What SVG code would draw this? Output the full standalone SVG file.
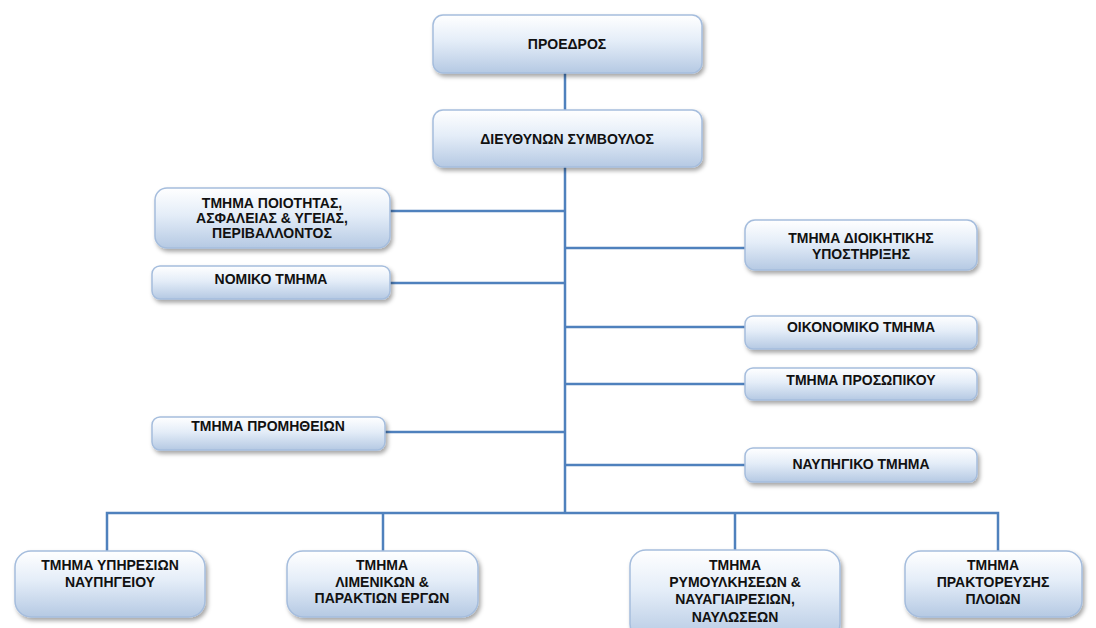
<svg xmlns="http://www.w3.org/2000/svg" width="1096" height="628" viewBox="0 0 1096 628">
<defs>
<linearGradient id="g" x1="0" y1="0" x2="0" y2="1">
<stop offset="0" stop-color="#ffffff"/>
<stop offset="0.45" stop-color="#e4edf8"/>
<stop offset="1" stop-color="#b5c9e3"/>
</linearGradient>
<filter id="sh" x="-10%" y="-20%" width="125%" height="150%">
<feDropShadow dx="2" dy="3" stdDeviation="2" flood-color="#000" flood-opacity="0.35"/>
</filter>
</defs>
<style>
.box{fill:url(#g);stroke:#a5bddd;stroke-width:1.5;filter:url(#sh)}
text{font-family:"Liberation Sans",Arial,sans-serif;font-weight:bold;font-size:14px;fill:#111;text-anchor:middle}
.c{stroke:#4f81bd;stroke-width:2.5;fill:none}
</style>
<rect width="1096" height="628" fill="#ffffff"/>
<g id="connectors">
<line class="c" x1="565" y1="73" x2="565" y2="110"/>
<line class="c" x1="565" y1="167" x2="565" y2="514"/>
<line class="c" x1="390" y1="211" x2="565" y2="211"/>
<line class="c" x1="390" y1="283" x2="565" y2="283"/>
<line class="c" x1="565" y1="248" x2="745" y2="248"/>
<line class="c" x1="565" y1="327" x2="745" y2="327"/>
<line class="c" x1="565" y1="384" x2="745" y2="384"/>
<line class="c" x1="385" y1="432" x2="565" y2="432"/>
<line class="c" x1="565" y1="465" x2="745" y2="465"/>
<path class="c" d="M107,551 V513 H998 V551"/>
<line class="c" x1="383" y1="513" x2="383" y2="551"/>
<line class="c" x1="735" y1="513" x2="735" y2="550"/>
</g>
<g id="n-proedros">
<rect class="box" x="433" y="15" width="269" height="58" rx="10"/>
<text x="567" y="49">ΠΡΟΕΔΡΟΣ</text>
</g>
<g id="n-ds">
<rect class="box" x="433" y="110" width="269" height="57" rx="10"/>
<text x="567" y="144">ΔΙΕΥΘΥΝΩΝ ΣΥΜΒΟΥΛΟΣ</text>
</g>
<g id="n-poiotita">
<rect class="box" x="155" y="188" width="235" height="60" rx="12"/>
<text x="272" y="208">ΤΜΗΜΑ ΠΟΙΟΤΗΤΑΣ,</text>
<text x="272" y="223">ΑΣΦΑΛΕΙΑΣ &amp; ΥΓΕΙΑΣ,</text>
<text x="272" y="238">ΠΕΡΙΒΑΛΛΟΝΤΟΣ</text>
</g>
<g id="n-nomiko">
<rect class="box" x="152" y="266" width="238" height="33" rx="8"/>
<text x="271" y="284">ΝΟΜΙΚΟ ΤΜΗΜΑ</text>
</g>
<g id="n-promitheion">
<rect class="box" x="152" y="417" width="233" height="33" rx="8"/>
<text x="268" y="431">ΤΜΗΜΑ ΠΡΟΜΗΘΕΙΩΝ</text>
</g>
<g id="n-dioikitikis">
<rect class="box" x="745" y="220" width="232" height="50" rx="10"/>
<text x="861" y="243">ΤΜΗΜΑ ΔΙΟΙΚΗΤΙΚΗΣ</text>
<text x="861" y="259">ΥΠΟΣΤΗΡΙΞΗΣ</text>
</g>
<g id="n-oikonomiko">
<rect class="box" x="745" y="316" width="232" height="33" rx="8"/>
<text x="861" y="332">ΟΙΚΟΝΟΜΙΚΟ ΤΜΗΜΑ</text>
</g>
<g id="n-prosopikou">
<rect class="box" x="745" y="368" width="232" height="32" rx="8"/>
<text x="861" y="385">ΤΜΗΜΑ ΠΡΟΣΩΠΙΚΟΥ</text>
</g>
<g id="n-naupigiko">
<rect class="box" x="745" y="448" width="232" height="34" rx="8"/>
<text x="861" y="469">ΝΑΥΠΗΓΙΚΟ ΤΜΗΜΑ</text>
</g>
<g id="n-ypiresion">
<rect class="box" x="15" y="551" width="190" height="66" rx="16"/>
<text x="110" y="570">ΤΜΗΜΑ ΥΠΗΡΕΣΙΩΝ</text>
<text x="110" y="587">ΝΑΥΠΗΓΕΙΟΥ</text>
</g>
<g id="n-limenikon">
<rect class="box" x="287" y="551" width="191" height="66" rx="16"/>
<text x="382" y="570">ΤΜΗΜΑ</text>
<text x="382" y="587">ΛΙΜΕΝΙΚΩΝ &amp;</text>
<text x="382" y="603">ΠΑΡΑΚΤΙΩΝ ΕΡΓΩΝ</text>
</g>
<g id="n-rymoulkiseon">
<rect class="box" x="630" y="550" width="210" height="90" rx="16"/>
<text x="735" y="570">ΤΜΗΜΑ</text>
<text x="735" y="587">ΡΥΜΟΥΛΚΗΣΕΩΝ &amp;</text>
<text x="735" y="604">ΝΑΥΑΓΙΑΙΡΕΣΙΩΝ,</text>
<text x="735" y="622">ΝΑΥΛΩΣΕΩΝ</text>
</g>
<g id="n-praktoreusis">
<rect class="box" x="905" y="551" width="177" height="66" rx="16"/>
<text x="993" y="570">ΤΜΗΜΑ</text>
<text x="993" y="587">ΠΡΑΚΤΟΡΕΥΣΗΣ</text>
<text x="993" y="604">ΠΛΟΙΩΝ</text>
</g>
</svg>
